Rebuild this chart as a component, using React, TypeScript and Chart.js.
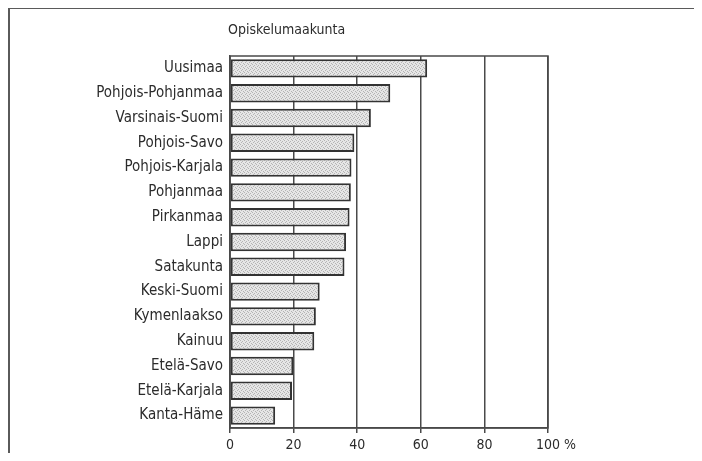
import React, { useEffect, useRef } from "react";
import { Chart, registerables } from "chart.js";

Chart.register(...registerables);

const TITLE = "Opiskelumaakunta";
const categories = [
  "Uusimaa",
  "Pohjois-Pohjanmaa",
  "Varsinais-Suomi",
  "Pohjois-Savo",
  "Pohjois-Karjala",
  "Pohjanmaa",
  "Pirkanmaa",
  "Lappi",
  "Satakunta",
  "Keski-Suomi",
  "Kymenlaakso",
  "Kainuu",
  "Etelä-Savo",
  "Etelä-Karjala",
  "Kanta-Häme",
];
const values = [62, 50.4, 44.3, 39.1, 38.2, 38.0, 37.6, 36.5, 36.0, 28.2, 27.0, 26.5, 19.9, 19.5, 14.2];
const xTicks = [0, 20, 40, 60, 80, 100];
const unitLabel = "%";

const FONT = '"Liberation Sans Narrow", "DejaVu Sans Condensed", "Roboto Condensed", sans-serif';
const TEXT = "#2b2b2b";
const LINE = "#4a4a4a";

function makePattern(): CanvasPattern | string {
  const c = document.createElement("canvas");
  c.width = 4;
  c.height = 4;
  const g = c.getContext("2d");
  if (!g) return "#d8d8d8";
  g.fillStyle = "#e6e6e6";
  g.fillRect(0, 0, 4, 4);
  g.fillStyle = "#b4b4b4";
  g.fillRect(0, 0, 1, 1);
  g.fillRect(2, 1, 1, 1);
  g.fillRect(3, 3, 1, 1);
  g.fillRect(1, 2, 1, 1);
  const p = g.createPattern(c, "repeat");
  return p || "#d8d8d8";
}

const decorPlugin = {
  id: "decor",
  beforeDraw(chart: any) {
    const ctx = chart.ctx;
    ctx.save();
    ctx.fillStyle = "#ffffff";
    ctx.fillRect(0, 0, chart.width, chart.height);
    ctx.restore();
  },
  afterDraw(chart: any) {
    const ctx = chart.ctx;
    const a = chart.chartArea;
    ctx.save();
    // outer frame (left and top edges)
    ctx.strokeStyle = "#5a5a5a";
    ctx.lineWidth = 2;
    ctx.beginPath();
    ctx.moveTo(9, chart.height);
    ctx.lineTo(9, 8);
    ctx.lineTo(chart.width, 8);
    ctx.stroke();
    // plot box
    ctx.strokeStyle = LINE;
    ctx.lineWidth = 1.5;
    ctx.strokeRect(a.left, a.top, a.right - a.left, a.bottom - a.top);
    // title
    ctx.fillStyle = TEXT;
    ctx.font = "14px " + FONT;
    ctx.textAlign = "left";
    ctx.textBaseline = "middle";
    ctx.fillText(TITLE, 228, 30);
    // unit after last tick
    const xs = chart.scales.x;
    const lastX = xs.getPixelForValue(xTicks[xTicks.length - 1]);
    const w = ctx.measureText(String(xTicks[xTicks.length - 1])).width;
    ctx.fillText(" " + unitLabel, lastX + w / 2, 445);
    ctx.restore();
  },
};

export default function App() {
  const ref = useRef<HTMLCanvasElement | null>(null);
  useEffect(() => {
    if (!ref.current) return;
    const chart = new Chart(ref.current, {
      type: "bar",
      data: {
        labels: categories,
        datasets: [
          {
            data: values,
            backgroundColor: makePattern() as any,
            borderColor: "#333333",
            borderWidth: 2,
            borderSkipped: false,
            barPercentage: 0.74,
            categoryPercentage: 1,
          },
        ],
      },
      options: {
        indexAxis: "y",
        animation: false,
        responsive: false,
        devicePixelRatio: 1,
        layout: { padding: { top: 56, right: 154, left: 0, bottom: 0 } },
        plugins: {
          legend: { display: false },
          tooltip: { enabled: false },
          title: { display: false },
        },
        scales: {
          x: {
            type: "linear",
            min: 0,
            max: 100,
            afterBuildTicks: (s: any) => {
              s.ticks = xTicks.map((v) => ({ value: v }));
            },
            afterFit: (s: any) => {
              s.height = 33;
            },
            grid: {
              display: true,
              drawOnChartArea: true,
              drawTicks: true,
              tickLength: 5,
              color: LINE,
              lineWidth: 1.5,
            },
            border: { display: true, color: LINE, width: 1.5 },
            ticks: {
              padding: 4,
              color: TEXT,
              font: { family: FONT, size: 14 },
              maxRotation: 0,
              autoSkip: false,
            },
          },
          y: {
            afterFit: (s: any) => {
              s.width = 230;
            },
            grid: { display: false, drawTicks: false },
            border: { display: true, color: LINE, width: 1.5 },
            ticks: {
              padding: 7,
              color: TEXT,
              font: { family: FONT, size: 15 },
              autoSkip: false,
            },
          },
        },
      },
      plugins: [decorPlugin],
    });
    return () => chart.destroy();
  }, []);
  return (
    <div style={{ position: "relative", margin: -8, width: 702, height: 461, overflow: "hidden" }}>
      <canvas ref={ref} width={702} height={461} style={{ display: "block" }} />
    </div>
  );
}
